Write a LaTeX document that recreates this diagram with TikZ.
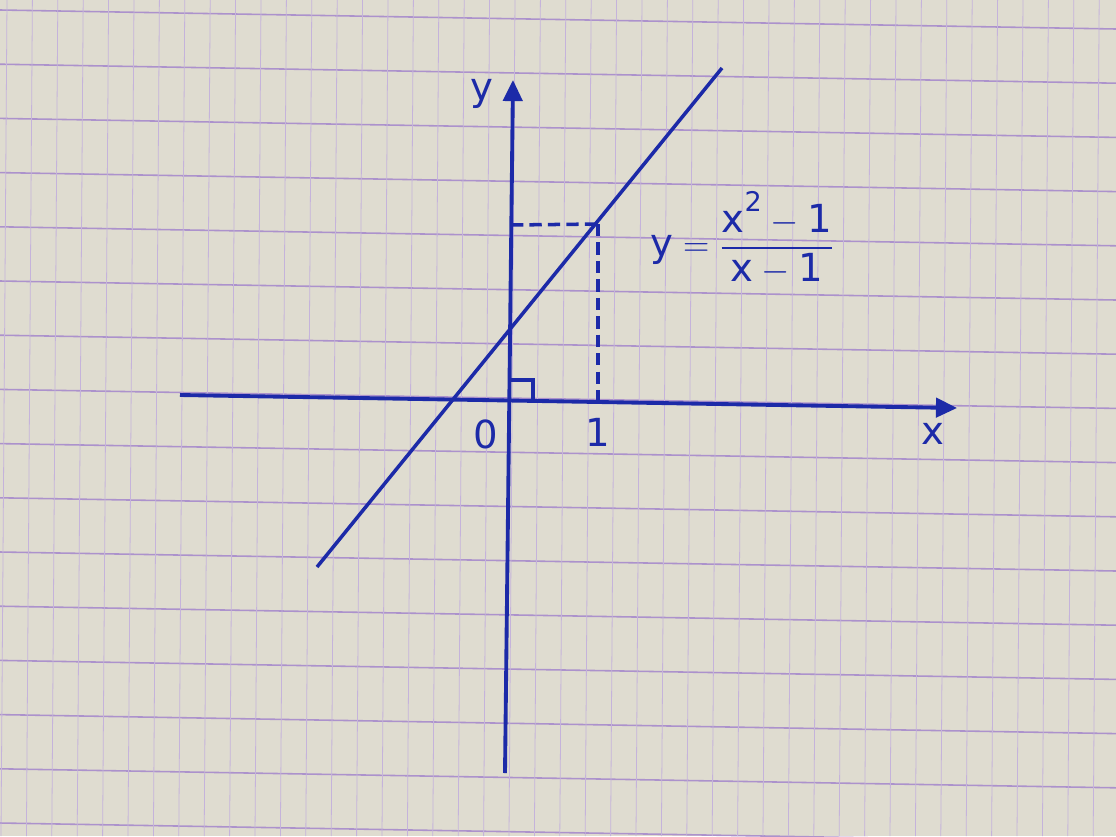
\documentclass[tikz,border=0pt]{standalone}
\usepackage{fontspec}
\setsansfont{DejaVu Sans}
\usepackage{amsmath}
\usetikzlibrary{arrows.meta, calc}

\definecolor{ink}{RGB}{28,42,168}
\definecolor{paper}{RGB}{223,220,208}
\definecolor{gridline}{RGB}{172,146,204}

\begin{document}
\begin{tikzpicture}[
    x=0.02cm, y=-0.02cm,
    font=\sffamily\fontsize{22}{26}\selectfont,
    axis/.style={ink, line width=2.2pt, -{Triangle[length=12pt, width=11pt]}},
    graph/.style={ink, line width=2pt},
    dashline/.style={draw=ink, line width=2pt, dash pattern=on 7pt off 3.5pt},
    gridh/.style={gridline, line width=0.9pt},
    gridv/.style={gridline!70, line width=0.45pt},
    lbl/.style={ink, inner sep=0pt}
]
\useasboundingbox (0,0) rectangle (1116,836);
\fill[paper] (0,0) rectangle (1116,836);

% ---- Squared paper ----
\foreach \k in {0,...,15}
    \draw[gridh] (0,{10+54.2*\k}) -- (1116,{29+54.2*\k});
\foreach \k in {0,...,43}
    \draw[gridv] ({7+25.4*\k},0) -- ({1+25.4*\k},836);

% ---- Points ----
\coordinate (xstart) at (180,395);
\coordinate (xend) at (957,408);
\coordinate (ybot) at (505,773);
\coordinate (ytop) at (513,80);
\coordinate (lstart) at (317,567);
\coordinate (lend) at (722,68);
\coordinate (P) at (598,224);
\coordinate (Py) at (511,225);
\coordinate (Px) at (598,402);
\coordinate (corner) at (509,380);

% ---- Axes ----
\draw[axis] (xstart) -- (xend);
\draw[axis] (ybot) -- (ytop);

% ---- Graph and guides ----
\draw[graph] (lstart) -- (lend);
\draw[dashline] (Py) -- (P);
\draw[dashline] (P) -- (Px);
\draw[ink, line width=1.8pt] (corner) -- ++(24,0) -- ++(0,20);

% ---- Labels ----
\node[lbl] (ylabel) at (482,94) {y};
\node[lbl] (xlabel) at (933,434) {x};
\node[lbl] (origin) at (486,434) {0};
\node[lbl] (one) at (598,432) {1};
\node[lbl] (eq) at (742,238) {$\mathsf{y}=\dfrac{\mathsf{x}^{\mathsf{2}}-\mathsf{1}}{\mathsf{x}-\mathsf{1}}$};

\end{tikzpicture}
\end{document}
